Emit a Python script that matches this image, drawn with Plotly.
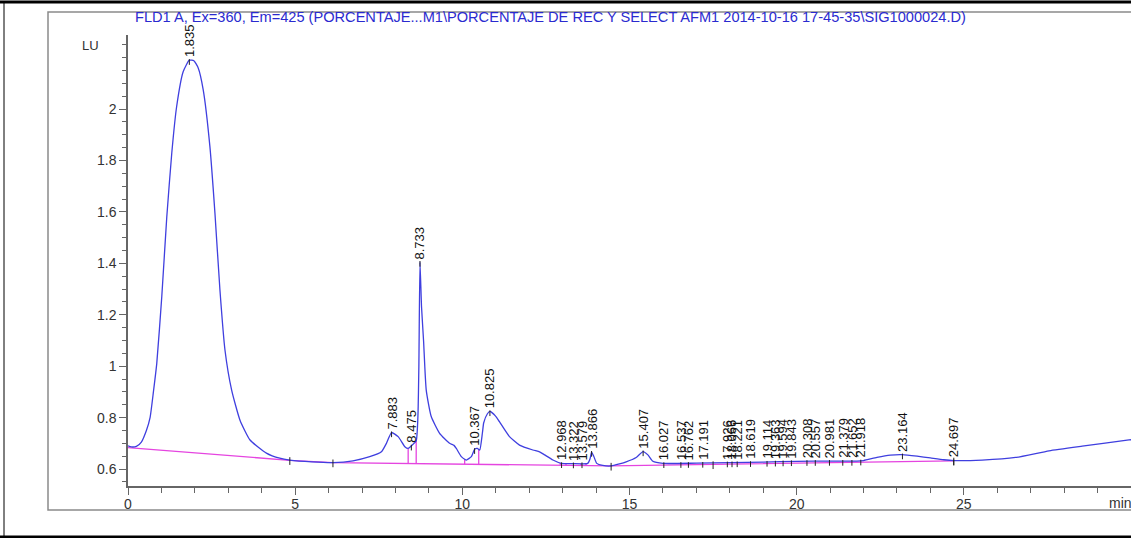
import numpy as np
import plotly.graph_objects as go

# ---- data ----
time_min = [0.00, 0.10, 0.25, 0.40, 0.55, 0.66, 0.76, 0.86, 1.01, 1.16, 1.31, 1.455, 1.65, 1.835,
            1.97, 2.10, 2.25, 2.45, 2.60, 2.75, 2.90, 3.10, 3.35, 3.65, 4.14, 4.54, 4.84, 5.50,
            6.13, 6.73, 7.23, 7.58, 7.73, 7.883, 8.08, 8.28, 8.38, 8.50, 8.62, 8.67, 8.70, 8.733,
            8.78, 8.84, 8.92, 9.07, 9.32, 9.62, 9.75, 9.82, 9.97, 10.07, 10.12, 10.27, 10.367,
            10.45, 10.52, 10.60, 10.64, 10.75, 10.825, 11.00, 11.11, 11.41, 11.71, 12.11, 12.31,
            12.46, 12.71, 12.96, 13.30, 13.75, 13.82, 13.866, 13.93, 14.02, 14.20, 14.45, 14.70,
            14.90, 15.20, 15.407, 15.55, 15.70, 16.00, 17.00, 18.00, 19.00, 20.00, 21.00, 21.80,
            22.00, 22.40, 22.80, 23.164, 23.60, 24.00, 24.40, 24.70, 25.55, 26.55, 27.55, 28.54,
            29.94, 30.00]
signal_lu = [0.690, 0.686, 0.688, 0.705, 0.750, 0.800, 0.900, 1.010, 1.270, 1.580, 1.830, 2.010, 2.145, 2.190,
             2.188, 2.160, 2.075, 1.854, 1.596, 1.296, 1.063, 0.907, 0.790, 0.713, 0.662, 0.642, 0.635, 0.628,
             0.625, 0.632, 0.648, 0.667, 0.700, 0.742, 0.726, 0.687, 0.680, 0.693, 0.710, 0.800, 1.000, 1.405,
             1.230, 1.100, 0.907, 0.804, 0.739, 0.700, 0.692, 0.680, 0.648, 0.638, 0.635, 0.648, 0.677,
             0.680, 0.674, 0.740, 0.780, 0.815, 0.824, 0.805, 0.784, 0.726, 0.693, 0.674, 0.667,
             0.655, 0.635, 0.622, 0.621, 0.622, 0.640, 0.666, 0.650, 0.622, 0.614, 0.612, 0.620,
             0.628, 0.645, 0.668, 0.655, 0.630, 0.622, 0.623, 0.625, 0.627, 0.630, 0.631, 0.631,
             0.633, 0.645, 0.654, 0.656, 0.650, 0.643, 0.636, 0.633, 0.635, 0.645, 0.671, 0.689,
             0.713, 0.714]

baseline_t = [0.00, 4.84, 6.13, 14.45, 24.70]
baseline_y = [0.683, 0.634, 0.625, 0.612, 0.632]

drop_times = [8.38, 8.62, 10.07, 10.49, 12.93, 13.10, 13.55, 13.70]
event_times = [4.84, 6.13, 14.45, 17.50, 24.70]

peak_rt = [1.835, 7.883, 8.475, 8.733, 10.367, 10.825, 12.968, 13.322, 13.579, 13.866,
           15.407, 16.027, 16.537, 16.762, 17.191, 17.926, 18.066, 18.221, 18.619,
           19.114, 19.363, 19.594, 19.843, 20.308, 20.557, 20.981, 21.379, 21.652, 21.918,
           23.164, 24.697]

x_ticks = [0, 5, 10, 15, 20, 25]
y_ticks = [0.6, 0.8, 1.0, 1.2, 1.4, 1.6, 1.8, 2.0]
y_tick_text = ["0.6", "0.8", "1", "1.2", "1.4", "1.6", "1.8", "2"]

title_text = "FLD1 A, Ex=360, Em=425 (PORCENTAJE...M1\\PORCENTAJE DE REC Y SELECT AFM1 2014-10-16 17-45-35\\SIG1000024.D)"

# ---- figure geometry (pixels) ----
W, H = 1131, 538
L, R, T, B = 128, 0, 35, 52
PW, PH = W - L - R, H - T - B


def px(xp):
    return (xp - L) / PW


def py(yp):
    return (H - B - yp) / PH


BLUE = "#3F3FDF"
MAG = "#E545E0"
FONT = "Arial, Liberation Sans, sans-serif"

t = np.array(time_min)
s = np.array(signal_lu)

fig = go.Figure()

# baseline
fig.add_trace(go.Scatter(x=baseline_t, y=baseline_y, mode="lines",
                         line=dict(color=MAG, width=1.3), hoverinfo="skip"))

# drop lines
dx, dy = [], []
for d in drop_times:
    dx += [d, d, None]
    dy += [float(np.interp(d, baseline_t, baseline_y)), float(np.interp(d, t, s)), None]
fig.add_trace(go.Scatter(x=dx, y=dy, mode="lines", line=dict(color=MAG, width=1.3), hoverinfo="skip"))

# signal
fig.add_trace(go.Scatter(x=time_min, y=signal_lu, mode="lines", line_shape="spline",
                         line=dict(color=BLUE, width=1.3, smoothing=0.5, simplify=False),
                         hoverinfo="skip"))

# black tick marks at peaks and integration events
kx, ky = [], []
for rt in peak_rt:
    yv = float(np.interp(rt, t, s))
    kx += [rt, rt, None]
    ky += [yv - 0.018, yv + 0.004, None]
for e in event_times:
    yv = float(np.interp(e, baseline_t, baseline_y))
    kx += [e, e, None]
    ky += [yv - 0.018, yv + 0.012, None]
fig.add_trace(go.Scatter(x=kx, y=ky, mode="lines", line=dict(color="#222", width=1), hoverinfo="skip"))

annotations = []
for rt in peak_rt:
    yv = float(np.interp(rt, t, s))
    annotations.append(dict(x=rt, y=yv, xref="x", yref="y", text=f"{rt:.3f}", showarrow=False,
                            textangle=-90, xanchor="center", yanchor="bottom", yshift=1,
                            font=dict(family=FONT, size=13, color="#111")))

annotations.append(dict(x=px(133), y=py(17), xref="paper", yref="paper", text=title_text,
                        showarrow=False, xanchor="left", yanchor="middle",
                        font=dict(family=FONT, size=14.6, color="#2A2ACF")))
annotations.append(dict(x=px(90), y=py(45), xref="paper", yref="paper", text="LU",
                        showarrow=False, xanchor="center", yanchor="middle",
                        font=dict(family=FONT, size=13, color="#333")))
annotations.append(dict(x=px(1107), y=py(503), xref="paper", yref="paper", text="min",
                        showarrow=False, xanchor="left", yanchor="middle",
                        font=dict(family=FONT, size=14, color="#333")))

shapes = [
    # inner grey frame
    dict(type="rect", xref="paper", yref="paper", x0=px(48), x1=px(1140), y0=py(510), y1=py(12),
         line=dict(color="#8a8a8a", width=1.5), fillcolor="rgba(0,0,0,0)", layer="below"),
    # outer black frame
    dict(type="line", xref="paper", yref="paper", x0=px(0), x1=px(1140), y0=py(2), y1=py(2),
         line=dict(color="#000", width=3)),
    dict(type="line", xref="paper", yref="paper", x0=px(4), x1=px(4), y0=py(537), y1=py(2),
         line=dict(color="#000", width=1)),
    dict(type="line", xref="paper", yref="paper", x0=px(0), x1=px(1140), y0=py(537), y1=py(537),
         line=dict(color="#000", width=3)),
]

fig.update_layout(
    width=W, height=H,
    margin=dict(l=L, r=R, t=T, b=B, pad=0),
    paper_bgcolor="white", plot_bgcolor="white",
    showlegend=False,
    annotations=annotations,
    shapes=shapes,
    font=dict(family=FONT, size=14, color="#333"),
)
fig.update_xaxes(range=[0, 30], tickmode="array", tickvals=x_ticks, ticks="outside", ticklen=7,
                 tickcolor="#666", tickwidth=1, showline=True, linecolor="#666", linewidth=2,
                 showgrid=False, zeroline=False, tickfont=dict(size=14, color="#333"),
                 ticklabelstandoff=-3,
                 minor=dict(tickmode="linear", tick0=0, dtick=1, ticks="outside", ticklen=5,
                            tickcolor="#666", tickwidth=1))
fig.update_yaxes(range=[0.534, 2.288], tickmode="array", tickvals=y_ticks, ticktext=y_tick_text,
                 ticks="outside", ticklen=7, tickcolor="#666", tickwidth=1, showline=True,
                 linecolor="#666", linewidth=1.5, showgrid=False, zeroline=False,
                 tickfont=dict(size=14, color="#333"),
                 minor=dict(tickmode="linear", tick0=0, dtick=0.05, ticks="outside", ticklen=4,
                            tickcolor="#666", tickwidth=1))

fig.write_html("out.html", config={"displayModeBar": False},
               post_script="document.body.style.margin='0';document.body.style.overflow='hidden';")
